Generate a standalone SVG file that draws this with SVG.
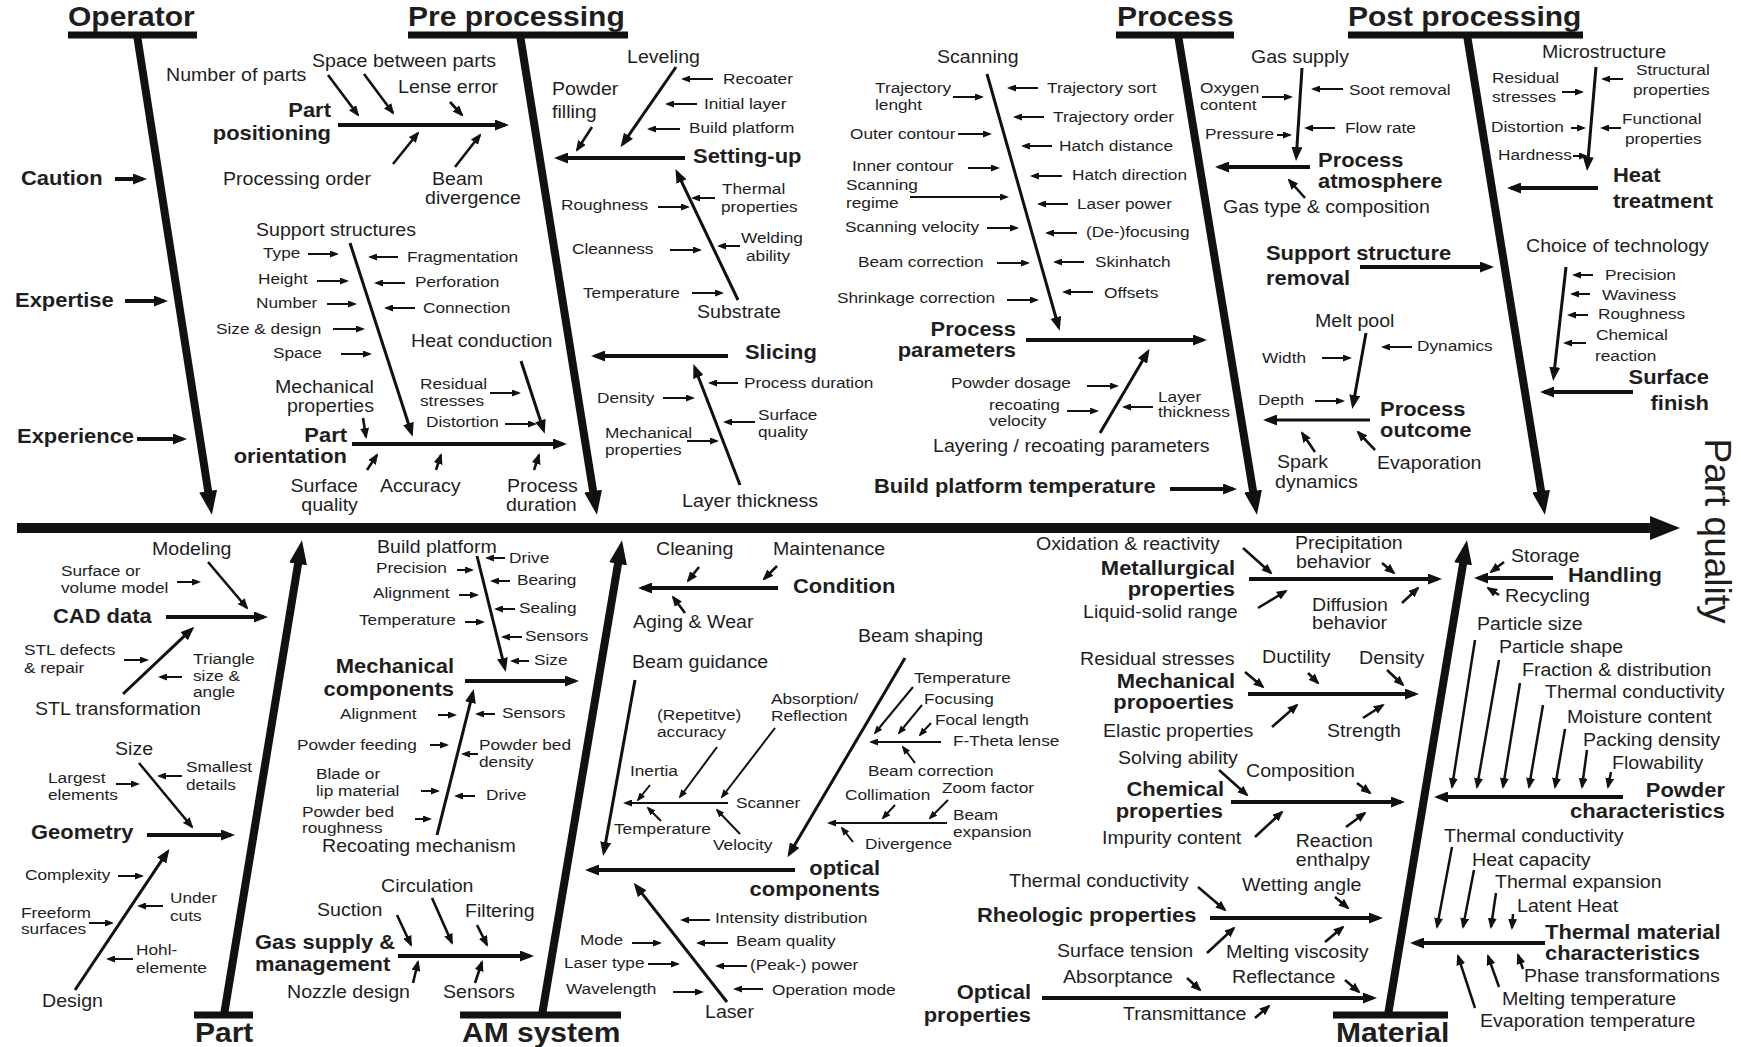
<svg xmlns="http://www.w3.org/2000/svg" width="1741" height="1047" viewBox="0 0 1741 1047">
<style>
text{font-family:"Liberation Sans",Arial,sans-serif;fill:#1e1e1e}
.hd{font-size:26.8px;font-weight:bold}
.cat{font-size:19.6px;font-weight:bold}
.lb{font-size:17.5px}
.sl{font-size:15.4px}
.hd,.cat,.lb,.sl{transform-box:fill-box;transform-origin:0 0;transform:scaleX(1.12)}
.e{text-anchor:end;transform-origin:100% 0}
line{stroke:#111;fill:none}
.bar{stroke-width:7}
.bone{stroke-width:8;marker-end:url(#big)}
.br{stroke-width:4;marker-end:url(#mid)}
.sb{stroke-width:3;marker-end:url(#mid)}
.pw{stroke-width:2.5;marker-end:url(#md)}
.md{stroke-width:2.6;marker-end:url(#md)}
.ar{stroke-width:2;marker-end:url(#sm)}
.ca{stroke-width:4;marker-end:url(#mid)}
</style>
<defs>
<marker id="big" markerUnits="userSpaceOnUse" viewBox="0 0 24 18" markerWidth="24" markerHeight="18" refX="12" refY="9" orient="auto"><path d="M0,0L24,9L0,18z" fill="#111"/></marker>
<marker id="head" markerUnits="userSpaceOnUse" viewBox="0 0 30 24" markerWidth="30" markerHeight="24" refX="14" refY="12" orient="auto"><path d="M0,0L30,12L0,24z" fill="#111"/></marker>
<marker id="mid" markerUnits="userSpaceOnUse" viewBox="0 0 14 11" markerWidth="14" markerHeight="11" refX="10" refY="5.5" orient="auto"><path d="M0,0L14,5.5L0,11z" fill="#111"/></marker>
<marker id="md" markerUnits="userSpaceOnUse" viewBox="0 0 11 9" markerWidth="11" markerHeight="9" refX="9" refY="4.5" orient="auto"><path d="M0,0L11,4.5L0,9z" fill="#111"/></marker>
<marker id="sm" markerUnits="userSpaceOnUse" viewBox="0 0 9 7" markerWidth="9" markerHeight="7" refX="7" refY="3.5" orient="auto"><path d="M0,0L9,3.5L0,7z" fill="#111"/></marker>
</defs>
<rect width="1741" height="1047" fill="#fff"/>

<g id="connectors">
  <!-- main spine -->
  <line x1="17" y1="528" x2="1664" y2="528" stroke-width="10" marker-end="url(#head)"/>
  <!-- header bars -->
  <line class="bar" x1="68" y1="35" x2="197" y2="35"/>
  <line class="bar" x1="408" y1="35" x2="628" y2="35"/>
  <line class="bar" x1="1116" y1="35" x2="1234" y2="35"/>
  <line class="bar" x1="1348" y1="35" x2="1583" y2="35"/>
  <line class="bar" x1="194" y1="1015" x2="253" y2="1015"/>
  <line class="bar" x1="460" y1="1015" x2="621" y2="1015"/>
  <line class="bar" x1="1333" y1="1015" x2="1448" y2="1015"/>
  <!-- main bones -->
  <line class="bone" x1="137" y1="35" x2="210" y2="503"/>
  <line class="bone" x1="520" y1="35" x2="595" y2="503"/>
  <line class="bone" x1="1178" y1="35" x2="1255" y2="503"/>
  <line class="bone" x1="1467" y1="35" x2="1543" y2="503"/>
  <line class="bone" x1="224" y1="1015" x2="300" y2="552"/>
  <line class="bone" x1="542" y1="1015" x2="620" y2="552"/>
  <line class="bone" x1="1388" y1="1015" x2="1465" y2="552"/>

  <!-- operator -->
  <line class="ca" x1="115" y1="179" x2="143" y2="179"/>
  <line class="ca" x1="125" y1="301" x2="164" y2="301"/>
  <line class="ca" x1="137" y1="439" x2="183" y2="439"/>

  <!-- pre processing: part positioning -->
  <line class="br" x1="338" y1="125" x2="505" y2="125"/>
  <line class="md" x1="328" y1="75" x2="358" y2="115"/>
  <line class="md" x1="364" y1="74" x2="393" y2="113"/>
  <line class="md" x1="450" y1="102" x2="462" y2="115"/>
  <line class="md" x1="393" y1="164" x2="418" y2="133"/>
  <line class="md" x1="455" y1="167" x2="480" y2="135"/>
  <!-- support structures / part orientation -->
  <line class="sb" x1="350" y1="243" x2="411.5" y2="433"/>
  <line class="ar" x1="308" y1="254" x2="337" y2="254"/>
  <line class="ar" x1="317" y1="281" x2="347" y2="281"/>
  <line class="ar" x1="327" y1="304" x2="355" y2="304"/>
  <line class="ar" x1="333" y1="329" x2="363" y2="329"/>
  <line class="ar" x1="341" y1="354" x2="370" y2="354"/>
  <line class="ar" x1="398" y1="257" x2="370" y2="257"/>
  <line class="ar" x1="405" y1="283" x2="376" y2="283"/>
  <line class="ar" x1="415" y1="308" x2="386" y2="308"/>
  <line class="sb" x1="521" y1="361" x2="543.5" y2="430"/>
  <line class="ar" x1="490" y1="393" x2="519" y2="393"/>
  <line class="ar" x1="505" y1="424" x2="535" y2="424"/>
  <line class="md" x1="363" y1="418" x2="366" y2="437"/>
  <line class="br" x1="352" y1="444" x2="563" y2="444"/>
  <line class="md" x1="367" y1="470" x2="377" y2="455"/>
  <line class="md" x1="436" y1="470" x2="441" y2="455"/>
  <line class="md" x1="534" y1="470" x2="539" y2="455"/>
  <!-- setting-up -->
  <line class="br" x1="685" y1="158" x2="558" y2="158"/>
  <line class="sb" x1="676" y1="67" x2="622.8" y2="143.9"/>
  <line class="md" x1="592" y1="127" x2="577" y2="150"/>
  <line class="ar" x1="713" y1="79" x2="683" y2="79"/>
  <line class="ar" x1="697" y1="104" x2="667" y2="104"/>
  <line class="ar" x1="680" y1="129" x2="649" y2="129"/>
  <line class="sb" x1="738" y1="300" x2="677.2" y2="172.5"/>
  <line class="ar" x1="658" y1="207" x2="688" y2="207"/>
  <line class="ar" x1="670" y1="250" x2="700" y2="250"/>
  <line class="ar" x1="692" y1="293" x2="722" y2="293"/>
  <line class="ar" x1="715" y1="198" x2="693" y2="198"/>
  <line class="ar" x1="740" y1="246" x2="719" y2="246"/>
  <!-- slicing -->
  <line class="br" x1="728" y1="356" x2="595" y2="356"/>
  <line class="sb" x1="740" y1="485" x2="694.8" y2="367.7"/>
  <line class="ar" x1="738" y1="383" x2="710" y2="383"/>
  <line class="ar" x1="755" y1="422" x2="725" y2="422"/>
  <line class="ar" x1="663" y1="398" x2="693" y2="398"/>
  <line class="ar" x1="687" y1="441" x2="717" y2="441"/>

  <!-- process: process parameters -->
  <line class="br" x1="1026" y1="340" x2="1203" y2="340"/>
  <line class="sb" x1="987" y1="74" x2="1058.6" y2="327"/>
  <line class="ar" x1="953" y1="97" x2="982" y2="97"/>
  <line class="ar" x1="958" y1="134" x2="990" y2="134"/>
  <line class="ar" x1="968" y1="168" x2="998" y2="168"/>
  <line class="ar" x1="910" y1="197" x2="1007" y2="197"/>
  <line class="ar" x1="987" y1="228" x2="1017" y2="228"/>
  <line class="ar" x1="997" y1="263" x2="1028" y2="263"/>
  <line class="ar" x1="1007" y1="300" x2="1037" y2="300"/>
  <line class="ar" x1="1038" y1="88" x2="1009" y2="88"/>
  <line class="ar" x1="1044" y1="117" x2="1015" y2="117"/>
  <line class="ar" x1="1052" y1="146" x2="1023" y2="146"/>
  <line class="ar" x1="1062" y1="176" x2="1032" y2="176"/>
  <line class="ar" x1="1068" y1="204" x2="1039" y2="204"/>
  <line class="ar" x1="1077" y1="233" x2="1047" y2="233"/>
  <line class="ar" x1="1084" y1="262" x2="1055" y2="262"/>
  <line class="ar" x1="1093" y1="292" x2="1064" y2="292"/>
  <!-- layering -->
  <line class="sb" x1="1100" y1="433" x2="1147.5" y2="352.3"/>
  <line class="ar" x1="1087" y1="386" x2="1117" y2="386"/>
  <line class="ar" x1="1067" y1="411" x2="1097" y2="411"/>
  <line class="ar" x1="1153" y1="407" x2="1124" y2="407"/>
  <line class="br" x1="1170" y1="489" x2="1233" y2="489"/>
  <!-- process atmosphere -->
  <line class="br" x1="1310" y1="167" x2="1219" y2="167"/>
  <line class="sb" x1="1302" y1="68" x2="1296.3" y2="157"/>
  <line class="ar" x1="1262" y1="97" x2="1291" y2="97"/>
  <line class="ar" x1="1277" y1="135" x2="1290" y2="135"/>
  <line class="ar" x1="1343" y1="89" x2="1313" y2="89"/>
  <line class="ar" x1="1335" y1="128" x2="1306" y2="128"/>
  <line class="md" x1="1305" y1="198" x2="1289" y2="180"/>
  <line class="br" x1="1360" y1="267" x2="1490" y2="267"/>
  <!-- process outcome -->
  <line class="sb" x1="1370" y1="420" x2="1267" y2="420"/>
  <line class="sb" x1="1366" y1="333" x2="1353" y2="405"/>
  <line class="ar" x1="1322" y1="358" x2="1350" y2="358"/>
  <line class="ar" x1="1315" y1="401" x2="1343" y2="401"/>
  <line class="ar" x1="1412" y1="347" x2="1383" y2="347"/>
  <line class="md" x1="1315" y1="452" x2="1302" y2="433"/>
  <line class="md" x1="1375" y1="450" x2="1358" y2="432"/>

  <!-- post processing -->
  <line class="br" x1="1598" y1="188" x2="1511" y2="188"/>
  <line class="sb" x1="1596" y1="67" x2="1587.4" y2="167"/>
  <line class="ar" x1="1562" y1="92" x2="1582" y2="92"/>
  <line class="ar" x1="1571" y1="128" x2="1584" y2="128"/>
  <line class="ar" x1="1573" y1="156" x2="1586" y2="156"/>
  <line class="ar" x1="1623" y1="79" x2="1603" y2="79"/>
  <line class="ar" x1="1621" y1="128" x2="1602" y2="128"/>
  <line class="br" x1="1633" y1="392" x2="1544" y2="392"/>
  <line class="sb" x1="1566" y1="267" x2="1553.6" y2="377"/>
  <line class="ar" x1="1593" y1="275" x2="1574" y2="275"/>
  <line class="ar" x1="1590" y1="294" x2="1572" y2="294"/>
  <line class="ar" x1="1588" y1="315" x2="1569" y2="315"/>
  <line class="ar" x1="1586" y1="343" x2="1565" y2="343"/>

  <!-- part -->
  <line class="br" x1="166" y1="617" x2="264" y2="617"/>
  <line class="md" x1="208" y1="562" x2="247" y2="608"/>
  <line class="ar" x1="177" y1="582" x2="199" y2="582"/>
  <line class="sb" x1="123" y1="694" x2="191.4" y2="629.4"/>
  <line class="ar" x1="124" y1="660" x2="147" y2="660"/>
  <line class="ar" x1="182" y1="677" x2="160" y2="677"/>
  <line class="br" x1="147" y1="835" x2="231" y2="835"/>
  <line class="md" x1="139" y1="763" x2="192" y2="827"/>
  <line class="ar" x1="116" y1="784" x2="138" y2="784"/>
  <line class="ar" x1="182" y1="776" x2="159" y2="776"/>
  <line class="sb" x1="75" y1="990" x2="167.2" y2="852.2"/>
  <line class="ar" x1="118" y1="876" x2="142" y2="876"/>
  <line class="ar" x1="89" y1="923" x2="112" y2="923"/>
  <line class="ar" x1="163" y1="906" x2="139" y2="906"/>
  <line class="ar" x1="133" y1="959" x2="108" y2="959"/>

  <!-- AM system: mechanical components -->
  <line class="sb" x1="477" y1="556" x2="504.8" y2="668"/>
  <line class="ar" x1="457" y1="570" x2="472" y2="570"/>
  <line class="ar" x1="459" y1="595" x2="477" y2="595"/>
  <line class="ar" x1="465" y1="622" x2="483" y2="622"/>
  <line class="ar" x1="505" y1="558" x2="487" y2="558"/>
  <line class="ar" x1="510" y1="581" x2="492" y2="581"/>
  <line class="ar" x1="515" y1="609" x2="496" y2="609"/>
  <line class="ar" x1="522" y1="637" x2="503" y2="637"/>
  <line class="ar" x1="529" y1="661" x2="512" y2="661"/>
  <line class="br" x1="465" y1="681" x2="575" y2="681"/>
  <line class="sb" x1="437" y1="835" x2="472.8" y2="692.9"/>
  <line class="ar" x1="438" y1="715" x2="455" y2="715"/>
  <line class="ar" x1="430" y1="745" x2="447" y2="745"/>
  <line class="ar" x1="421" y1="791" x2="438" y2="791"/>
  <line class="ar" x1="415" y1="819" x2="430" y2="819"/>
  <line class="ar" x1="495" y1="714" x2="477" y2="714"/>
  <line class="ar" x1="478" y1="754" x2="463" y2="754"/>
  <line class="ar" x1="475" y1="796" x2="456" y2="796"/>
  <!-- gas supply & management -->
  <line class="br" x1="398" y1="956" x2="530" y2="956"/>
  <line class="md" x1="397" y1="915" x2="411" y2="945"/>
  <line class="md" x1="432" y1="898" x2="452" y2="943"/>
  <line class="md" x1="477" y1="925" x2="487" y2="945"/>
  <line class="md" x1="413" y1="983" x2="418" y2="962"/>
  <line class="md" x1="475" y1="983" x2="482" y2="962"/>
  <!-- condition -->
  <line class="br" x1="778" y1="588" x2="642" y2="588"/>
  <line class="md" x1="699" y1="567" x2="688" y2="581"/>
  <line class="md" x1="777" y1="566" x2="764" y2="579"/>
  <line class="md" x1="685" y1="613" x2="673" y2="597"/>
  <!-- optical components -->
  <line class="br" x1="795" y1="870" x2="589" y2="870"/>
  <line class="sb" x1="635" y1="680" x2="603.9" y2="852"/>
  <line class="ar" x1="728" y1="803" x2="625" y2="803"/>
  <line class="ar" x1="717" y1="747" x2="680" y2="797"/>
  <line class="ar" x1="775" y1="728" x2="722" y2="797"/>
  <line class="ar" x1="650" y1="785" x2="638" y2="800"/>
  <line class="ar" x1="661" y1="821" x2="648" y2="808"/>
  <line class="ar" x1="740" y1="834" x2="717" y2="810"/>
  <line class="sb" x1="905" y1="658" x2="789.5" y2="853.7"/>
  <line class="ar" x1="941" y1="742" x2="871" y2="742"/>
  <line class="ar" x1="913" y1="687" x2="875" y2="733"/>
  <line class="ar" x1="922" y1="705" x2="899" y2="733"/>
  <line class="ar" x1="931" y1="723" x2="920" y2="735"/>
  <line class="ar" x1="915" y1="763" x2="903" y2="747"/>
  <line class="ar" x1="947" y1="823" x2="829" y2="823"/>
  <line class="ar" x1="895" y1="805" x2="883" y2="818"/>
  <line class="ar" x1="948" y1="800" x2="930" y2="818"/>
  <line class="ar" x1="853" y1="842" x2="842" y2="828"/>
  <line class="sb" x1="727" y1="1002" x2="636.1" y2="885.9"/>
  <line class="ar" x1="632" y1="943" x2="660" y2="943"/>
  <line class="ar" x1="648" y1="964" x2="678" y2="964"/>
  <line class="ar" x1="673" y1="992" x2="702" y2="992"/>
  <line class="ar" x1="710" y1="920" x2="682" y2="920"/>
  <line class="ar" x1="728" y1="943" x2="698" y2="943"/>
  <line class="ar" x1="747" y1="966" x2="717" y2="966"/>
  <line class="ar" x1="763" y1="989" x2="735" y2="989"/>

  <!-- material -->
  <line class="br" x1="1249" y1="579" x2="1438" y2="579"/>
  <line class="md" x1="1243" y1="548" x2="1271" y2="573"/>
  <line class="md" x1="1258" y1="608" x2="1286" y2="591"/>
  <line class="md" x1="1382" y1="563" x2="1394" y2="573"/>
  <line class="md" x1="1402" y1="603" x2="1418" y2="588"/>
  <line class="br" x1="1553" y1="578" x2="1478" y2="578"/>
  <line class="md" x1="1504" y1="562" x2="1491" y2="572"/>
  <line class="md" x1="1499" y1="595" x2="1488" y2="588"/>
  <line class="br" x1="1248" y1="694" x2="1415" y2="694"/>
  <line class="md" x1="1245" y1="672" x2="1263" y2="687"/>
  <line class="md" x1="1308" y1="673" x2="1318" y2="683"/>
  <line class="md" x1="1387" y1="670" x2="1403" y2="685"/>
  <line class="md" x1="1272" y1="727" x2="1297" y2="705"/>
  <line class="md" x1="1363" y1="718" x2="1383" y2="705"/>
  <line class="br" x1="1231" y1="802" x2="1401" y2="802"/>
  <line class="md" x1="1219" y1="770" x2="1247" y2="795"/>
  <line class="md" x1="1255" y1="837" x2="1282" y2="812"/>
  <line class="md" x1="1357" y1="783" x2="1370" y2="793"/>
  <line class="md" x1="1346" y1="827" x2="1365" y2="813"/>
  <line class="br" x1="1210" y1="918" x2="1379" y2="918"/>
  <line class="md" x1="1198" y1="887" x2="1225" y2="910"/>
  <line class="md" x1="1207" y1="953" x2="1234" y2="928"/>
  <line class="md" x1="1335" y1="897" x2="1348" y2="908"/>
  <line class="md" x1="1325" y1="942" x2="1343" y2="927"/>
  <line class="br" x1="1042" y1="998" x2="1373" y2="998"/>
  <line class="md" x1="1187" y1="978" x2="1200" y2="990"/>
  <line class="md" x1="1345" y1="980" x2="1359" y2="992"/>
  <line class="md" x1="1255" y1="1018" x2="1269" y2="1006"/>
  <!-- powder characteristics -->
  <line class="br" x1="1623" y1="797" x2="1438" y2="797"/>
  <line class="pw" x1="1475" y1="640" x2="1452" y2="787"/>
  <line class="pw" x1="1499" y1="660" x2="1477" y2="787"/>
  <line class="pw" x1="1520" y1="683" x2="1503" y2="787"/>
  <line class="pw" x1="1543" y1="705" x2="1529" y2="787"/>
  <line class="pw" x1="1565" y1="729" x2="1555" y2="787"/>
  <line class="pw" x1="1587" y1="750" x2="1582" y2="787"/>
  <line class="pw" x1="1611" y1="772" x2="1608" y2="787"/>
  <!-- thermal material characteristics -->
  <line class="br" x1="1545" y1="943" x2="1414" y2="943"/>
  <line class="pw" x1="1452" y1="847" x2="1437" y2="927"/>
  <line class="pw" x1="1474" y1="870" x2="1463" y2="927"/>
  <line class="pw" x1="1496" y1="893" x2="1491" y2="927"/>
  <line class="pw" x1="1513" y1="914" x2="1512" y2="928"/>
  <line class="pw" x1="1523" y1="969" x2="1518" y2="955"/>
  <line class="pw" x1="1499" y1="987" x2="1488" y2="956"/>
  <line class="pw" x1="1475" y1="1008" x2="1458" y2="956"/>
</g>

<g id="operator">
  <text class="hd" x="68" y="26">Operator</text>
  <text class="cat" x="21" y="185">Caution</text>
  <text class="cat" x="15" y="307">Expertise</text>
  <text class="cat" x="17" y="443">Experience</text>
</g>

<g id="pre-processing">
  <text class="hd" x="408" y="26">Pre processing</text>
  <text class="lb" x="166" y="81">Number of parts</text>
  <text class="lb" x="312" y="67">Space between parts</text>
  <text class="lb" x="398" y="93">Lense error</text>
  <text class="cat e" x="331" y="117">Part</text>
  <text class="cat e" x="331" y="140">positioning</text>
  <text class="lb" x="223" y="185">Processing order</text>
  <text class="lb" x="432" y="185">Beam</text>
  <text class="lb" x="425" y="204">divergence</text>
  <text class="lb" x="256" y="236">Support structures</text>
  <text class="sl" x="263" y="258">Type</text>
  <text class="sl" x="258" y="284">Height</text>
  <text class="sl" x="256" y="308">Number</text>
  <text class="sl" x="216" y="334">Size &amp; design</text>
  <text class="sl" x="273" y="358">Space</text>
  <text class="sl" x="407" y="262">Fragmentation</text>
  <text class="sl" x="415" y="287">Perforation</text>
  <text class="sl" x="423" y="313">Connection</text>
  <text class="lb" x="411" y="347">Heat conduction</text>
  <text class="lb e" x="374" y="393">Mechanical</text>
  <text class="lb e" x="374" y="412">properties</text>
  <text class="sl" x="420" y="389">Residual</text>
  <text class="sl" x="420" y="406">stresses</text>
  <text class="sl" x="426" y="427">Distortion</text>
  <text class="cat e" x="347" y="442">Part</text>
  <text class="cat e" x="347" y="463">orientation</text>
  <text class="lb e" x="358" y="492">Surface</text>
  <text class="lb e" x="358" y="511">quality</text>
  <text class="lb" x="380" y="492">Accuracy</text>
  <text class="lb" x="507" y="492">Process</text>
  <text class="lb" x="506" y="511">duration</text>
  <text class="lb" x="627" y="63">Leveling</text>
  <text class="lb" x="552" y="95">Powder</text>
  <text class="lb" x="552" y="118">filling</text>
  <text class="sl" x="723" y="84">Recoater</text>
  <text class="sl" x="704" y="109">Initial layer</text>
  <text class="sl" x="689" y="133">Build platform</text>
  <text class="cat" x="693" y="163">Setting-up</text>
  <text class="sl" x="722" y="194">Thermal</text>
  <text class="sl" x="721" y="212">properties</text>
  <text class="sl" x="561" y="210">Roughness</text>
  <text class="sl" x="741" y="243">Welding</text>
  <text class="sl" x="746" y="261">ability</text>
  <text class="sl" x="572" y="254">Cleanness</text>
  <text class="sl" x="583" y="298">Temperature</text>
  <text class="lb" x="697" y="318">Substrate</text>
  <text class="cat" x="745" y="359">Slicing</text>
  <text class="sl" x="744" y="388">Process duration</text>
  <text class="sl" x="597" y="403">Density</text>
  <text class="sl" x="758" y="420">Surface</text>
  <text class="sl" x="758" y="437">quality</text>
  <text class="sl" x="605" y="438">Mechanical</text>
  <text class="sl" x="605" y="455">properties</text>
  <text class="lb" x="682" y="507">Layer thickness</text>
</g>

<g id="process">
  <text class="hd" x="1117" y="26">Process</text>
  <text class="lb" x="937" y="63">Scanning</text>
  <text class="sl" x="875" y="93">Trajectory</text>
  <text class="sl" x="875" y="110">lenght</text>
  <text class="sl" x="850" y="139">Outer contour</text>
  <text class="sl" x="852" y="171">Inner contour</text>
  <text class="sl" x="846" y="190">Scanning</text>
  <text class="sl" x="846" y="208">regime</text>
  <text class="sl" x="845" y="232">Scanning velocity</text>
  <text class="sl" x="858" y="267">Beam correction</text>
  <text class="sl" x="837" y="303">Shrinkage correction</text>
  <text class="sl" x="1047" y="93">Trajectory sort</text>
  <text class="sl" x="1053" y="122">Trajectory order</text>
  <text class="sl" x="1059" y="151">Hatch distance</text>
  <text class="sl" x="1072" y="180">Hatch direction</text>
  <text class="sl" x="1077" y="209">Laser power</text>
  <text class="sl" x="1086" y="237">(De-)focusing</text>
  <text class="sl" x="1095" y="267">Skinhatch</text>
  <text class="sl" x="1104" y="298">Offsets</text>
  <text class="cat e" x="1016" y="336">Process</text>
  <text class="cat e" x="1016" y="357">parameters</text>
  <text class="sl" x="951" y="388">Powder dosage</text>
  <text class="sl" x="989" y="410">recoating</text>
  <text class="sl" x="989" y="426">velocity</text>
  <text class="sl" x="1158" y="402">Layer</text>
  <text class="sl" x="1158" y="417">thickness</text>
  <text class="lb" x="933" y="452">Layering / recoating parameters</text>
  <text class="cat" x="874" y="493">Build platform temperature</text>
  <text class="lb" x="1251" y="63">Gas supply</text>
  <text class="sl" x="1200" y="93">Oxygen</text>
  <text class="sl" x="1200" y="110">content</text>
  <text class="sl" x="1205" y="139">Pressure</text>
  <text class="sl" x="1349" y="95">Soot removal</text>
  <text class="sl" x="1345" y="133">Flow rate</text>
  <text class="cat" x="1318" y="167">Process</text>
  <text class="cat" x="1318" y="188">atmosphere</text>
  <text class="lb" x="1223" y="213">Gas type &amp; composition</text>
  <text class="cat" x="1266" y="260">Support structure</text>
  <text class="cat" x="1266" y="285">removal</text>
  <text class="lb" x="1315" y="327">Melt pool</text>
  <text class="sl" x="1262" y="363">Width</text>
  <text class="sl" x="1258" y="405">Depth</text>
  <text class="sl" x="1417" y="351">Dynamics</text>
  <text class="cat" x="1380" y="416">Process</text>
  <text class="cat" x="1380" y="437">outcome</text>
  <text class="lb" x="1277" y="468">Spark</text>
  <text class="lb" x="1275" y="488">dynamics</text>
  <text class="lb" x="1377" y="469">Evaporation</text>
</g>

<g id="post-processing">
  <text class="hd" x="1348" y="26">Post processing</text>
  <text class="lb" x="1542" y="58">Microstructure</text>
  <text class="sl" x="1492" y="83">Residual</text>
  <text class="sl" x="1492" y="102">stresses</text>
  <text class="sl" x="1491" y="132">Distortion</text>
  <text class="sl" x="1498" y="160">Hardness</text>
  <text class="sl" x="1636" y="75">Structural</text>
  <text class="sl" x="1633" y="95">properties</text>
  <text class="sl" x="1622" y="124">Functional</text>
  <text class="sl" x="1625" y="144">properties</text>
  <text class="cat" x="1613" y="182">Heat</text>
  <text class="cat" x="1613" y="208">treatment</text>
  <text class="lb" x="1526" y="252">Choice of technology</text>
  <text class="sl" x="1605" y="280">Precision</text>
  <text class="sl" x="1602" y="300">Waviness</text>
  <text class="sl" x="1598" y="319">Roughness</text>
  <text class="sl" x="1596" y="340">Chemical</text>
  <text class="sl" x="1595" y="361">reaction</text>
  <text class="cat e" x="1709" y="384">Surface</text>
  <text class="cat e" x="1709" y="410">finish</text>
</g>

<g id="part">
  <text class="hd" x="195" y="1042">Part</text>
  <text class="lb" x="152" y="555">Modeling</text>
  <text class="sl" x="61" y="576">Surface or</text>
  <text class="sl" x="61" y="593">volume model</text>
  <text class="cat" x="53" y="623">CAD data</text>
  <text class="sl" x="24" y="655">STL defects</text>
  <text class="sl" x="24" y="673">&amp; repair</text>
  <text class="sl" x="193" y="664">Triangle</text>
  <text class="sl" x="193" y="681">size &amp;</text>
  <text class="sl" x="193" y="697">angle</text>
  <text class="lb" x="35" y="715">STL transformation</text>
  <text class="lb" x="115" y="755">Size</text>
  <text class="sl" x="48" y="783">Largest</text>
  <text class="sl" x="48" y="800">elements</text>
  <text class="sl" x="186" y="772">Smallest</text>
  <text class="sl" x="186" y="790">details</text>
  <text class="cat" x="31" y="839">Geometry</text>
  <text class="sl" x="25" y="880">Complexity</text>
  <text class="sl" x="170" y="903">Under</text>
  <text class="sl" x="170" y="921">cuts</text>
  <text class="sl" x="21" y="918">Freeform</text>
  <text class="sl" x="21" y="934">surfaces</text>
  <text class="sl" x="136" y="955">Hohl-</text>
  <text class="sl" x="136" y="973">elemente</text>
  <text class="lb" x="42" y="1007">Design</text>
</g>

<g id="am-system">
  <text class="hd" x="462" y="1042">AM system</text>
  <text class="lb" x="377" y="553">Build platform</text>
  <text class="sl" x="376" y="573">Precision</text>
  <text class="sl" x="373" y="598">Alignment</text>
  <text class="sl" x="359" y="625">Temperature</text>
  <text class="sl" x="509" y="563">Drive</text>
  <text class="sl" x="517" y="585">Bearing</text>
  <text class="sl" x="519" y="613">Sealing</text>
  <text class="sl" x="525" y="641">Sensors</text>
  <text class="sl" x="534" y="665">Size</text>
  <text class="cat e" x="454" y="673">Mechanical</text>
  <text class="cat e" x="454" y="696">components</text>
  <text class="sl" x="340" y="719">Alignment</text>
  <text class="sl" x="297" y="750">Powder feeding</text>
  <text class="sl" x="316" y="779">Blade or</text>
  <text class="sl" x="316" y="796">lip material</text>
  <text class="sl" x="302" y="817">Powder bed</text>
  <text class="sl" x="302" y="833">roughness</text>
  <text class="lb" x="322" y="852">Recoating mechanism</text>
  <text class="sl" x="502" y="718">Sensors</text>
  <text class="sl" x="479" y="750">Powder bed</text>
  <text class="sl" x="479" y="767">density</text>
  <text class="sl" x="486" y="800">Drive</text>
  <text class="lb" x="381" y="892">Circulation</text>
  <text class="lb" x="317" y="916">Suction</text>
  <text class="lb" x="465" y="917">Filtering</text>
  <text class="cat" x="255" y="949">Gas supply &amp;</text>
  <text class="cat" x="255" y="971">management</text>
  <text class="lb" x="287" y="998">Nozzle design</text>
  <text class="lb" x="443" y="998">Sensors</text>
  <text class="lb" x="656" y="555">Cleaning</text>
  <text class="lb" x="773" y="555">Maintenance</text>
  <text class="cat" x="793" y="593">Condition</text>
  <text class="lb" x="633" y="628">Aging &amp; Wear</text>
  <text class="lb" x="632" y="668">Beam guidance</text>
  <text class="lb" x="858" y="642">Beam shaping</text>
  <text class="sl" x="657" y="720">(Repetitve)</text>
  <text class="sl" x="657" y="737">accuracy</text>
  <text class="sl" x="771" y="704">Absorption/</text>
  <text class="sl" x="771" y="721">Reflection</text>
  <text class="sl" x="630" y="776">Inertia</text>
  <text class="sl" x="736" y="808">Scanner</text>
  <text class="sl" x="614" y="834">Temperature</text>
  <text class="sl" x="713" y="850">Velocity</text>
  <text class="sl" x="914" y="683">Temperature</text>
  <text class="sl" x="924" y="704">Focusing</text>
  <text class="sl" x="935" y="725">Focal length</text>
  <text class="sl" x="953" y="746">F-Theta lense</text>
  <text class="sl" x="868" y="776">Beam correction</text>
  <text class="sl" x="845" y="800">Collimation</text>
  <text class="sl" x="942" y="793">Zoom factor</text>
  <text class="sl" x="953" y="820">Beam</text>
  <text class="sl" x="953" y="837">expansion</text>
  <text class="sl" x="865" y="849">Divergence</text>
  <text class="cat e" x="880" y="875">optical</text>
  <text class="cat e" x="880" y="896">components</text>
  <text class="sl" x="715" y="923">Intensity distribution</text>
  <text class="sl" x="580" y="945">Mode</text>
  <text class="sl" x="736" y="946">Beam quality</text>
  <text class="sl" x="564" y="968">Laser type</text>
  <text class="sl" x="750" y="970">(Peak-) power</text>
  <text class="sl" x="566" y="994">Wavelength</text>
  <text class="sl" x="772" y="995">Operation mode</text>
  <text class="lb" x="705" y="1018">Laser</text>
</g>

<g id="material">
  <text class="hd" x="1336" y="1042">Material</text>
  <text class="lb" x="1036" y="550">Oxidation &amp; reactivity</text>
  <text class="cat e" x="1235" y="575">Metallurgical</text>
  <text class="cat e" x="1235" y="596">properties</text>
  <text class="lb" x="1083" y="618">Liquid-solid range</text>
  <text class="lb" x="1295" y="549">Precipitation</text>
  <text class="lb" x="1296" y="568">behavior</text>
  <text class="lb" x="1312" y="611">Diffusion</text>
  <text class="lb" x="1312" y="629">behavior</text>
  <text class="lb" x="1511" y="562">Storage</text>
  <text class="cat" x="1568" y="582">Handling</text>
  <text class="lb" x="1505" y="602">Recycling</text>
  <text class="lb" x="1080" y="665">Residual stresses</text>
  <text class="lb" x="1262" y="663">Ductility</text>
  <text class="lb" x="1359" y="664">Density</text>
  <text class="cat e" x="1235" y="688">Mechanical</text>
  <text class="cat e" x="1234" y="709">propoerties</text>
  <text class="lb" x="1103" y="737">Elastic properties</text>
  <text class="lb" x="1327" y="737">Strength</text>
  <text class="lb" x="1118" y="764">Solving ability</text>
  <text class="lb" x="1246" y="777">Composition</text>
  <text class="cat e" x="1224" y="796">Chemical</text>
  <text class="cat e" x="1223" y="818">properties</text>
  <text class="lb" x="1102" y="844">Impurity content</text>
  <text class="lb e" x="1373" y="847">Reaction</text>
  <text class="lb e" x="1370" y="866">enthalpy</text>
  <text class="lb" x="1009" y="887">Thermal conductivity</text>
  <text class="lb" x="1242" y="891">Wetting angle</text>
  <text class="cat" x="977" y="922">Rheologic properties</text>
  <text class="lb" x="1057" y="957">Surface tension</text>
  <text class="lb" x="1226" y="958">Melting viscosity</text>
  <text class="lb" x="1063" y="983">Absorptance</text>
  <text class="lb" x="1232" y="983">Reflectance</text>
  <text class="cat e" x="1031" y="999">Optical</text>
  <text class="cat e" x="1031" y="1022">properties</text>
  <text class="lb" x="1123" y="1020">Transmittance</text>
  <text class="lb" x="1477" y="630">Particle size</text>
  <text class="lb" x="1499" y="653">Particle shape</text>
  <text class="lb" x="1522" y="676">Fraction &amp; distribution</text>
  <text class="lb" x="1545" y="698">Thermal conductivity</text>
  <text class="lb" x="1567" y="723">Moisture content</text>
  <text class="lb" x="1583" y="746">Packing density</text>
  <text class="lb" x="1612" y="769">Flowability</text>
  <text class="cat e" x="1725" y="797">Powder</text>
  <text class="cat e" x="1725" y="818">characteristics</text>
  <text class="lb" x="1444" y="842">Thermal conductivity</text>
  <text class="lb" x="1472" y="866">Heat capacity</text>
  <text class="lb" x="1495" y="888">Thermal expansion</text>
  <text class="lb" x="1517" y="912">Latent Heat</text>
  <text class="cat" x="1545" y="939">Thermal material</text>
  <text class="cat" x="1545" y="960">characteristics</text>
  <text class="lb" x="1524" y="982">Phase transformations</text>
  <text class="lb" x="1502" y="1005">Melting temperature</text>
  <text class="lb" x="1480" y="1027">Evaporation temperature</text>
</g>

<g id="result">
  <text transform="translate(1705,531) rotate(90)" text-anchor="middle" style="font-size:37px">Part quality</text>
</g>
</svg>
